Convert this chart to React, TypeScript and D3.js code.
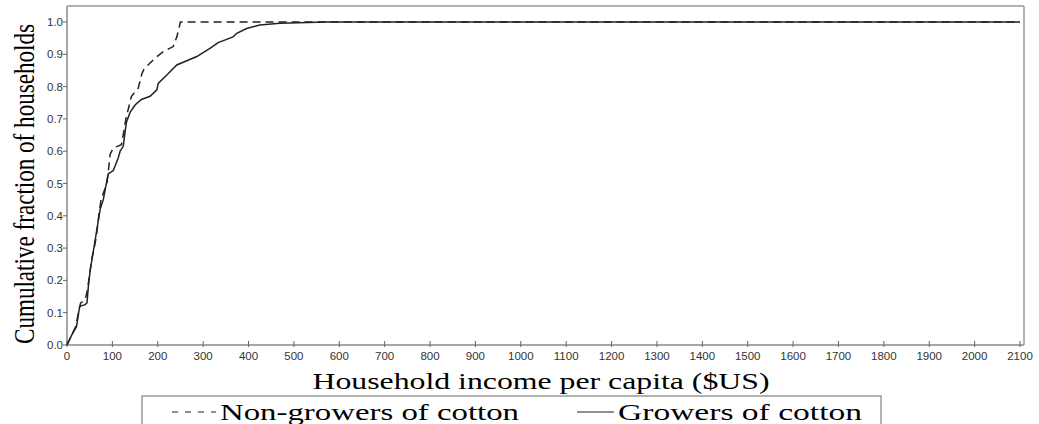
import React from "react";
import * as d3 from "d3";

const xTicks = [0,100,200,300,400,500,600,700,800,900,1000,1100,1200,1300,1400,1500,1600,1700,1800,1900,2000,2100];
const yTicks = [0,0.1,0.2,0.3,0.4,0.5,0.6,0.7,0.8,0.9,1.0];

const nonIncome = [0,10,20,25,30,40,45,50,55,60,65,70,75,80,88,92,95,102,120,125,131,135,142,157,165,170,194,212,234,242,250,2100];
const nonFrac = [0,0.03,0.06,0.10,0.13,0.14,0.17,0.22,0.27,0.30,0.34,0.40,0.45,0.47,0.50,0.55,0.59,0.61,0.62,0.66,0.71,0.73,0.77,0.795,0.84,0.855,0.888,0.908,0.924,0.954,1.0,1.0];

const grIncome = [0,10,21,28,40,44,47,51,58,65,73,80,84,91,102,113,117,124,128,131,139,150,164,183,198,201,220,242,286,315,333,366,374,396,425,469,572,2100];
const grFrac = [0,0.03,0.057,0.12,0.125,0.13,0.18,0.23,0.29,0.35,0.42,0.45,0.48,0.53,0.54,0.58,0.60,0.615,0.66,0.69,0.72,0.743,0.76,0.77,0.79,0.81,0.836,0.867,0.893,0.918,0.936,0.954,0.965,0.98,0.991,0.996,1.0,1.0];

const W = 1039, H = 424;
const left = 67, right = 1024, top = 6, bottom = 345;

export default function App() {
  const x = d3.scaleLinear().domain([0, 2100]).range([left, 1020]);
  const y = d3.scaleLinear().domain([0, 1]).range([bottom, 22]);
  const line = d3.line<[number, number]>().x(d => x(d[0])).y(d => y(d[1]));
  const nonPts = nonIncome.map((v, i) => [v, nonFrac[i]] as [number, number]);
  const grPts = grIncome.map((v, i) => [v, grFrac[i]] as [number, number]);
  const sans = "'Liberation Sans', Arial, sans-serif";
  const serif = "'Liberation Serif', 'Times New Roman', serif";
  return (
    <svg width={W} height={H} style={{ position: "absolute", left: 0, top: 0, background: "#fff" }}>
      <rect x={0} y={0} width={W} height={H} fill="#fff" />
      <line x1={left} y1={top} x2={right} y2={top} stroke="#999" strokeWidth={1.5} />
      <line x1={right} y1={top} x2={right} y2={bottom} stroke="#999" strokeWidth={1.5} />
      <line x1={left} y1={top} x2={left} y2={bottom} stroke="#888" strokeWidth={1.5} />
      <line x1={left} y1={bottom} x2={right} y2={bottom} stroke="#888" strokeWidth={1.5} />
      {yTicks.map(t => (
        <g key={"y" + t}>
          <line x1={left - 4} x2={left} y1={y(t)} y2={y(t)} stroke="#666" />
          <text x={left - 4} y={y(t) + 4} textAnchor="end" fontFamily={sans} fontSize={11.5} fill="#333">{t.toFixed(1)}</text>
        </g>
      ))}
      {xTicks.map(t => (
        <g key={"x" + t}>
          <line x1={x(t)} x2={x(t)} y1={bottom - 4} y2={bottom + 2} stroke="#666" />
          <text x={x(t)} y={bottom + 15} textAnchor="middle" fontFamily={sans} fontSize={11.5} fill="#333">{t}</text>
        </g>
      ))}
      <path d={line(nonPts) || ""} fill="none" stroke="#222" strokeWidth={1.5} strokeDasharray="8,5" />
      <path d={line(grPts) || ""} fill="none" stroke="#222" strokeWidth={1.5} />
      <text transform={`translate(34,184) rotate(-90)`} textAnchor="middle" fontFamily={serif} fontSize={29} textLength={320} lengthAdjust="spacingAndGlyphs" fill="#000">Cumulative fraction of households</text>
      <text x={541} y={389} textAnchor="middle" fontFamily={serif} fontSize={24} textLength={457} lengthAdjust="spacingAndGlyphs" fill="#000">Household income per capita ($US)</text>
      <rect x={142} y={396} width={739} height={40} fill="none" stroke="#999" strokeWidth={1.5} />
      <line x1={172} x2={216} y1={412} y2={412} stroke="#222" strokeWidth={1.2} strokeDasharray="6,7" />
      <text x={220} y={420} fontFamily={serif} fontSize={23} textLength={299} lengthAdjust="spacingAndGlyphs" fill="#000">Non-growers of cotton</text>
      <line x1={577} x2={614} y1={412} y2={412} stroke="#222" strokeWidth={1.2} />
      <text x={618} y={420} fontFamily={serif} fontSize={23} textLength={244} lengthAdjust="spacingAndGlyphs" fill="#000">Growers of cotton</text>
    </svg>
  );
}
